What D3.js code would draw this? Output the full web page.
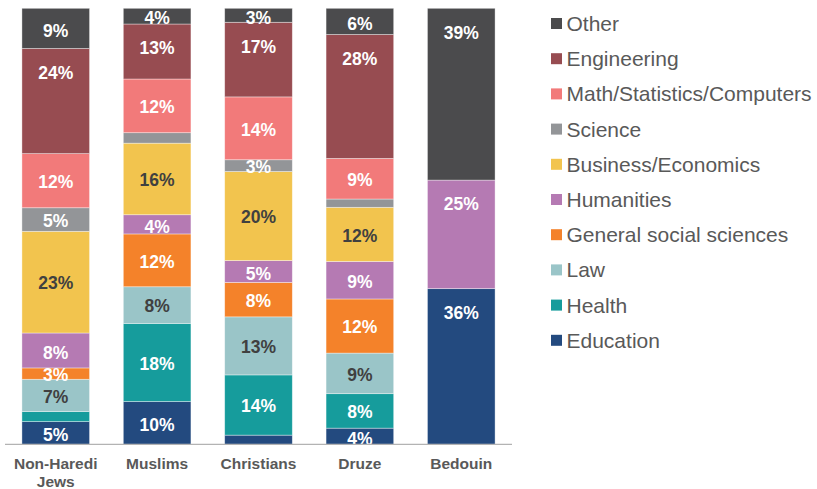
<!DOCTYPE html>
<html>
<head>
<meta charset="utf-8">
<script src="https://cdn.jsdelivr.net/npm/d3@7"></script>
<style>
  html, body { margin: 0; padding: 0; background: #fff; }
  svg { display: block; font-family: "Liberation Sans", Arial, sans-serif; }
</style>
</head>
<body>
<div id="chart"></div>
<script>
const categories = ['Non-Haredi Jews', 'Muslims', 'Christians', 'Druze', 'Bedouin'];
const fields = ['Education', 'Health', 'Law', 'General social sciences', 'Humanities',
  'Business/Economics', 'Science', 'Math/Statistics/Computers', 'Engineering', 'Other'];

// share of graduates (%) per field, in category order
const education = [5.2, 9.8, 2.1, 3.7, 35.7];
const health = [2.3, 17.9, 13.8, 7.9, 0];
const law = [7.4, 8.4, 13.3, 9.3, 0];
const socialSciences = [2.6, 12.1, 7.9, 12.4, 0];
const humanities = [8.0, 4.4, 5.0, 8.6, 24.9];
const business = [23.3, 16.4, 20.4, 12.4, 0];
const science = [5.4, 2.4, 2.7, 1.9, 0];
const math = [12.4, 12.3, 14.4, 9.3, 0];
const engineering = [24.1, 12.6, 17.1, 28.4, 0];
const other = [9.2, 3.6, 3.2, 6.0, 39.4];

const seriesValues = [education, health, law, socialSciences, humanities,
  business, science, math, engineering, other];

const colors = ['#234a7f', '#169c9c', '#9ac5c8', '#f4822a', '#b57ab3',
  '#f2c44e', '#939598', '#f27a7a', '#974c51', '#4b4b4d'];
const darkLabels = new Set(['Business/Economics', 'Law']);
const topLabels = new Set(['Other', 'Engineering', 'Humanities', 'Education']);

const width = 817, height = 489;

const table = categories.map((c, i) => {
  const row = { category: c };
  fields.forEach((f, j) => { row[f] = seriesValues[j][i]; });
  return row;
});

const stacked = d3.stack().keys(fields).offset(d3.stackOffsetExpand)(table);

const svg = d3.select('#chart').append('svg')
  .attr('width', width)
  .attr('height', height);

const x = d3.scaleBand()
  .domain(categories)
  .range([5, 512])
  .paddingInner(0.333)
  .paddingOuter(0.167);

const y = d3.scaleLinear().domain([0, 1]).range([444.3, 8.3]);

const color = d3.scaleOrdinal().domain(fields).range(colors);

const layers = svg.append('g')
  .selectAll('g')
  .data(stacked)
  .join('g')
  .attr('fill', d => color(d.key));

layers.selectAll('rect')
  .data(d => d.map(p => Object.assign(p, { key: d.key })))
  .join('rect')
  .attr('x', d => x(d.data.category))
  .attr('y', d => y(d[1]))
  .attr('width', x.bandwidth())
  .attr('height', d => y(d[0]) - y(d[1]))
  .attr('stroke', '#ffffff')
  .attr('stroke-opacity', 0.5)
  .attr('stroke-width', 0.75);

// data labels
layers.selectAll('text')
  .data(d => d.filter(p => Math.round(p.data[d.key]) >= 3))
  .join('text')
  .attr('x', d => x(d.data.category) + x.bandwidth() / 2)
  .attr('y', d => {
    const top = y(d[1]), mid = (y(d[0]) + y(d[1])) / 2;
    return topLabels.has(d.key) ? Math.min(mid + 2, top + 24) : mid + 1;
  })
  .attr('dy', '0.36em')
  .attr('text-anchor', 'middle')
  .attr('font-size', 17.5)
  .attr('font-weight', 'bold')
  .attr('fill', d => darkLabels.has(d.key) ? '#404040' : '#ffffff')
  .text(d => Math.round(d.data[d.key]) + '%');

// baseline axis
svg.append('line')
  .attr('x1', 5).attr('x2', 512)
  .attr('y1', y(0)).attr('y2', y(0))
  .attr('stroke', '#b3b3b3')
  .attr('stroke-width', 1.2);

// category labels
const catLabels = svg.append('g')
  .selectAll('text')
  .data(categories)
  .join('text')
  .attr('x', d => x(d) + x.bandwidth() / 2)
  .attr('y', 469)
  .attr('text-anchor', 'middle')
  .attr('font-size', 15.5)
  .attr('font-weight', 'bold')
  .attr('fill', '#595959');

catLabels.each(function (d) {
  const words = d === 'Non-Haredi Jews' ? ['Non-Haredi', 'Jews'] : [d];
  d3.select(this).selectAll('tspan')
    .data(words)
    .join('tspan')
    .attr('x', x(d) + x.bandwidth() / 2)
    .attr('dy', (w, i) => i === 0 ? 0 : 17.5)
    .text(w => w);
});

// legend
const legend = svg.append('g')
  .selectAll('g')
  .data(fields.slice().reverse())
  .join('g')
  .attr('transform', (d, i) => `translate(551,${23.5 + i * 35.2})`);

legend.append('rect')
  .attr('x', 0).attr('y', -5.5)
  .attr('width', 11).attr('height', 11)
  .attr('fill', d => color(d));

legend.append('text')
  .attr('x', 15.5)
  .attr('dy', '0.36em')
  .attr('font-size', 21)
  .attr('fill', '#595959')
  .text(d => d);
</script>
</body>
</html>
